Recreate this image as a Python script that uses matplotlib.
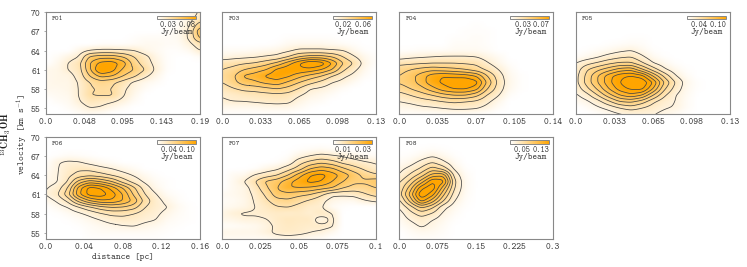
import numpy as np
import matplotlib
matplotlib.use('Agg')
import matplotlib.pyplot as plt
from matplotlib.colors import LinearSegmentedColormap

plt.rcParams['font.family'] = ['cmtt10']
plt.rcParams['mathtext.fontset'] = 'cm'
plt.rcParams['axes.formatter.use_mathtext'] = True

W, H = 747, 267

# flux in units of the contour step, rows from 70 km/s down to 54 km/s
F01 = [
    [0, 0, 0, 0, 0, 0, 0, 0, 0, 0, 0, 0, 0, .3, 1.2],
    [0, 0, 0, 0, 0, 0, 0, 0, 0, 0, 0, 0, .1, .6, 1.5],
    [0, 0, 0, 0, 0, 0, 0, 0, 0, 0, 0, 0, .2, .9, 2.6],
    [0, 0, 0, 0, 0, 0, 0, 0, 0, 0, 0, .1, .3, 1.1, 3.8],
    [0, 0, 0, 0, 0, 0, 0, 0, .1, .2, .2, .2, .3, 1.1, 3.2],
    [0, 0, 0, 0, 0, .1, .1, .1, .2, .3, .3, .2, .2, .7, 1.6],
    [0, 0, 0, .5, 1.0, 1.2, 1.2, 1.1, 1.0, .5, .3, .1, .1, .3, 1.0],
    [0, .2, .6, 1.0, 3.2, 3.6, 3.6, 3.0, 2.0, 1.3, .5, .1, 0, 0, .2],
    [0, .4, 1.0, 1.6, 4.0, 5.4, 5.6, 4.6, 2.5, 1.5, .7, .1, 0, 0, 0],
    [.4, .5, 1.0, 1.5, 3.8, 6.3, 5.5, 3.8, 3.0, 2.0, .8, .1, 0, 0, 0],
    [.4, .5, .6, 1.3, 3.0, 4.3, 4.0, 3.0, 2.2, 1.2, .5, 0, 0, 0, 0],
    [.4, .5, .5, 1.05, 2.0, 2.5, 2.2, 1.6, .8, .4, .2, 0, 0, 0, 0],
    [.4, .4, .5, 1.0, 1.9, 2.1, 2.0, 1.2, .6, .2, 0, 0, 0, 0, 0],
    [.2, .3, .4, 1.0, 2.0, 2.1, 2.1, 1.1, .4, 0, 0, 0, 0, 0, 0],
    [0, .2, .3, .9, 1.5, 1.3, 1.1, .7, .2, 0, 0, 0, 0, 0, 0],
    [0, 0, .2, .5, 1.0, .9, .5, .2, 0, 0, 0, 0, 0, 0, 0],
    [0, 0, 0, .2, .3, .2, 0, 0, 0, 0, 0, 0, 0, 0, 0],
]
F03 = [
    [0, 0, 0, 0, 0, 0, 0, 0, 0, 0, 0, 0, 0, 0, 0],
    [0, 0, 0, 0, 0, 0, 0, 0, 0, 0, 0, 0, 0, 0, 0],
    [0, 0, 0, 0, 0, 0, 0, 0, 0, 0, 0, 0, 0, 0, 0],
    [0, 0, 0, 0, 0, 0, 0, 0, 0, 0, 0, 0, 0, 0, 0],
    [0, 0, 0, 0, 0, 0, .1, .1, .1, .1, .1, 0, 0, 0, 0],
    [0, 0, 0, 0, 0, .1, .3, .4, .4, .4, .3, .2, .1, 0, 0],
    [.2, .2, .2, .3, .4, .5, .8, 1.2, 1.2, 1.2, 1.1, 1.0, .4, .1, 0],
    [.5, .7, .8, .9, 1.1, 1.3, 2.0, 3.0, 3.5, 3.5, 3.0, 2.0, 1.1, .4, .1],
    [1.6, 1.7, 1.9, 2.1, 2.6, 3.3, 4.6, 6.0, 7.2, 6.7, 5.0, 3.0, 1.9, .6, .1],
    [2.0, 2.3, 3.0, 3.5, 4.0, 5.3, 5.8, 5.8, 5.6, 5.0, 4.0, 2.2, 1.2, .4, 0],
    [2.2, 2.8, 4.2, 4.5, 5.2, 5.6, 5.2, 4.3, 3.6, 3.0, 2.0, 1.2, .7, .2, 0],
    [2.0, 2.7, 3.5, 3.8, 4.3, 4.6, 3.8, 3.0, 2.3, 1.7, 1.0, .7, .3, 0, 0],
    [1.4, 1.9, 2.3, 2.4, 2.7, 3.0, 2.6, 1.9, 1.0, .8, .5, .2, 0, 0, 0],
    [1.05, 1.2, 1.4, 1.5, 1.6, 1.7, 1.6, 1.1, .6, .4, .2, 0, 0, 0, 0],
    [.9, 1.0, 1.0, 1.1, 1.2, 1.3, 1.2, .6, .3, .2, 0, 0, 0, 0, 0],
    [.4, .4, .4, .4, .5, .5, .5, .3, .1, 0, 0, 0, 0, 0, 0],
    [.1, .1, .1, .1, .1, .1, .1, 0, 0, 0, 0, 0, 0, 0, 0],
]
F04 = [
    [0, 0, 0, 0, 0, 0, 0, 0, 0, 0, 0, 0, 0, 0, 0],
    [0, 0, 0, 0, 0, 0, 0, 0, 0, 0, 0, 0, 0, 0, 0],
    [0, 0, 0, 0, 0, 0, 0, .1, 0, 0, 0, 0, 0, 0, 0],
    [0, 0, 0, 0, 0, 0, .1, .1, .1, 0, 0, 0, 0, 0, 0],
    [0, 0, 0, 0, 0, .1, .1, .2, .1, 0, 0, 0, 0, 0, 0],
    [0, 0, 0, 0, 0, .2, .2, .2, .1, 0, 0, 0, 0, 0, 0],
    [.1, .1, .2, .2, .2, .3, .3, .3, .2, 0, 0, 0, 0, 0, 0],
    [.6, .8, .9, 1.0, 1.1, 1.1, 1.1, 1.0, .6, .3, 0, 0, 0, 0, 0],
    [1.7, 1.8, 1.9, 2.0, 2.0, 2.0, 1.9, 1.8, 1.1, .5, .1, 0, 0, 0, 0],
    [2.6, 3.0, 3.4, 3.7, 3.5, 3.3, 3.0, 2.5, 1.8, 1.0, .3, 0, 0, 0, 0],
    [3.0, 3.6, 4.5, 5.6, 6.0, 5.8, 5.6, 5.0, 3.0, 1.5, .4, .1, 0, 0, 0],
    [3.1, 3.5, 4.5, 5.7, 6.2, 6.6, 7.1, 6.4, 3.8, 1.7, .5, .1, 0, 0, 0],
    [2.5, 3.0, 3.6, 4.6, 5.6, 6.1, 6.1, 5.4, 3.0, 1.5, .4, .1, 0, 0, 0],
    [1.5, 2.0, 2.5, 3.0, 3.6, 4.0, 4.0, 3.3, 1.9, 1.05, .2, 0, 0, 0, 0],
    [1.0, 1.2, 1.5, 1.7, 2.0, 2.2, 2.0, 1.8, 1.2, .5, 0, 0, 0, 0, 0],
    [.5, .6, .8, .9, 1.05, 1.2, 1.2, 1.1, .7, .2, 0, 0, 0, 0, 0],
    [.2, .2, .2, .2, .3, .3, .3, .2, .1, 0, 0, 0, 0, 0, 0],
]
F05 = [
    [0, 0, 0, 0, 0, .1, .1, 0, 0, 0, 0, 0, 0, 0, 0],
    [0, 0, 0, 0, 0, 0, 0, 0, 0, 0, 0, 0, 0, 0, 0],
    [0, 0, 0, 0, 0, 0, 0, 0, 0, 0, 0, 0, 0, 0, 0],
    [0, 0, 0, 0, 0, 0, 0, 0, 0, 0, 0, 0, 0, 0, 0],
    [0, 0, 0, 0, 0, .1, .1, 0, 0, 0, 0, 0, 0, 0, 0],
    [0, 0, 0, .1, .2, .3, .2, 0, 0, 0, 0, 0, 0, 0, 0],
    [0, .1, .3, .5, .8, 1.0, .5, .1, 0, 0, 0, 0, 0, 0, 0],
    [.2, .5, .9, 1.4, 1.8, 2.0, 1.2, .4, .1, 0, 0, 0, 0, 0, 0],
    [1.0, 1.7, 2.2, 2.8, 3.2, 3.2, 2.2, 1.05, .5, .1, 0, 0, 0, 0, 0],
    [1.4, 2.9, 3.8, 4.6, 5.5, 5.8, 4.2, 2.6, 1.2, .5, .1, 0, 0, 0, 0],
    [1.6, 3.3, 5.0, 6.6, 7.7, 8.1, 7.5, 5.0, 2.8, 1.1, .3, 0, 0, 0, 0],
    [1.6, 3.4, 5.0, 6.7, 8.0, 9.0, 9.0, 7.0, 4.0, 2.0, .6, .1, 0, 0, 0],
    [1.3, 2.7, 4.2, 6.0, 7.5, 8.2, 8.3, 6.0, 3.2, 1.6, .5, .1, 0, 0, 0],
    [.8, 1.6, 3.0, 4.6, 6.0, 6.7, 6.0, 4.0, 2.2, 1.05, .4, 0, 0, 0, 0],
    [.4, .8, 1.6, 2.8, 4.0, 4.2, 3.5, 2.2, 1.4, 1.0, .3, 0, 0, 0, 0],
    [0, .3, .8, 1.3, 2.0, 2.5, 2.0, 1.5, 1.1, .9, .3, 0, 0, 0, 0],
    [0, 0, .2, .5, .9, 1.05, 1.1, 1.05, .7, .4, .1, 0, 0, 0, 0],
]
F06 = [
    [0, 0, 0, 0, 0, 0, 0, 0, 0, 0, 0, 0, 0, 0, 0],
    [0, 0, 0, 0, 0, 0, 0, 0, 0, 0, 0, 0, 0, 0, 0],
    [0, 0, 0, 0, 0, 0, 0, 0, 0, 0, 0, 0, 0, 0, 0],
    [0, .1, .3, .2, .1, 0, 0, 0, 0, 0, 0, 0, 0, 0, 0],
    [.1, .9, 1.2, 1.1, .7, .4, .2, 0, 0, 0, 0, 0, 0, 0, 0],
    [.3, .9, 1.5, 1.8, 1.7, 1.3, 1.0, .6, .3, 0, 0, 0, 0, 0, 0],
    [.5, .9, 1.7, 2.4, 2.7, 2.4, 1.9, 1.4, .9, .4, .1, 0, 0, 0, 0],
    [.6, .9, 2.0, 4.4, 5.5, 4.9, 4.0, 2.6, 1.6, .8, .3, .1, 0, 0, 0],
    [.9, 1.4, 3.0, 6.5, 8.5, 8.0, 6.6, 5.0, 3.2, 1.5, .5, .1, 0, 0, 0],
    [1.0, 1.8, 3.6, 6.8, 8.5, 8.6, 7.6, 6.0, 3.8, 2.0, 1.05, .3, .1, 0, 0],
    [.5, 1.1, 2.2, 4.4, 6.0, 6.8, 6.8, 6.0, 4.7, 2.6, 1.4, .7, .2, 0, 0],
    [.1, .5, 1.0, 1.9, 2.8, 3.6, 4.0, 3.9, 3.4, 2.0, 1.4, 1.05, .4, .1, 0],
    [0, .1, .4, .8, 1.3, 1.9, 2.3, 2.3, 2.0, 1.5, 1.2, .7, .3, .1, 0],
    [0, 0, .1, .3, .6, 1.0, 1.4, 1.6, 1.5, 1.2, 1.0, .4, .2, .1, 0],
    [0, 0, 0, .1, .3, .5, .7, .9, 1.0, .7, .5, .2, .1, 0, 0],
    [0, 0, 0, 0, .2, .3, .3, .3, .3, .3, .2, .1, 0, 0, 0],
    [0, 0, 0, 0, .1, .1, .1, .1, .1, .1, .1, 0, 0, 0, 0],
]
F07 = [
    [0, 0, 0, 0, 0, 0, 0, 0, 0, 0, 0, 0, 0, 0, 0],
    [0, 0, 0, 0, 0, 0, 0, 0, 0, 0, 0, 0, 0, 0, 0],
    [0, 0, 0, 0, 0, 0, 0, .1, .2, .3, .2, .1, 0, 0, 0],
    [0, 0, 0, 0, 0, 0, .1, .6, 1.0, 1.3, 1.1, .9, .6, .3, .2],
    [0, 0, 0, 0, 0, .1, .4, 1.6, 2.3, 2.8, 2.4, 1.7, 1.4, 1.1, .9],
    [0, 0, 0, .1, .5, .8, 1.6, 2.5, 4.0, 4.6, 4.2, 3.2, 2.4, 1.8, 1.2],
    [0, .3, .4, 1.1, 1.5, 2.0, 3.0, 4.6, 6.0, 6.4, 5.6, 4.6, 3.6, 2.6, 2.2],
    [0, .4, 1.0, 2.0, 3.2, 3.6, 4.7, 5.6, 6.3, 6.0, 5.0, 4.0, 3.2, 3.2, 3.6],
    [0, .4, .6, 1.5, 2.8, 4.0, 5.0, 5.0, 4.8, 4.4, 4.0, 3.0, 2.6, 2.6, 3.0],
    [.3, .4, .6, 1.2, 2.2, 3.6, 3.6, 3.3, 3.0, 2.2, 1.2, 1.2, 1.3, 1.9, 2.4],
    [.2, .3, .5, 1.1, 1.8, 2.6, 2.8, 2.3, 1.8, 1.3, .6, .4, .4, .9, 1.2],
    [.3, .4, .6, 1.0, 1.4, 1.9, 2.0, 1.6, 1.2, 1.1, .3, .1, 0, 0, 0],
    [.6, .95, 1.1, 1.1, 1.2, 1.3, 1.2, 1.3, 1.05, 1.4, 1.05, 0, 0, 0, 0],
    [.5, .6, .8, .8, .95, 1.3, 1.5, 1.4, 1.4, .5, 1.25, 0, 0, 0, 0],
    [.15, .2, .3, .4, .7, 1.2, 1.4, 1.3, 1.2, 1.3, 1.1, 0, 0, 0, 0],
    [.5, .5, .5, .5, .8, 1.2, 1.3, 1.2, 1.0, .8, .4, 0, 0, 0, 0],
    [.3, .3, .3, .3, .3, .5, .6, .5, .3, .2, 0, 0, 0, 0, 0],
]
F08 = [
    [0, 0, 0, 0, 0, 0, 0, 0, 0, 0, 0, 0, 0, 0, 0],
    [0, 0, 0, 0, 0, 0, 0, 0, 0, 0, 0, 0, 0, 0, 0],
    [0, 0, .1, .2, .1, 0, 0, 0, 0, 0, 0, 0, 0, 0, 0],
    [.1, .2, .5, .9, .5, .1, 0, 0, 0, 0, 0, 0, 0, 0, 0],
    [.3, .6, 1.3, 2.0, 1.2, .4, 0, 0, 0, 0, 0, 0, 0, 0, 0],
    [.7, 1.3, 2.2, 3.5, 2.6, .8, .1, 0, 0, 0, 0, 0, 0, 0, 0],
    [1.0, 2.2, 3.5, 5.5, 5.8, 1.6, .3, 0, 0, 0, 0, 0, 0, 0, 0],
    [1.8, 3.3, 5.5, 8.0, 7.5, 2.2, .4, 0, 0, 0, 0, 0, 0, 0, 0],
    [2.2, 4.5, 7.8, 8.8, 5.5, 2.0, .4, 0, 0, 0, 0, 0, 0, 0, 0],
    [2.5, 5.4, 9.0, 7.5, 4.2, 1.5, .3, 0, 0, 0, 0, 0, 0, 0, 0],
    [1.7, 4.3, 7.5, 5.5, 3.0, 1.0, .2, 0, 0, 0, 0, 0, 0, 0, 0],
    [1.0, 2.5, 4.2, 3.2, 1.3, .5, .1, 0, 0, 0, 0, 0, 0, 0, 0],
    [.6, 1.6, 2.5, 1.9, .8, .3, 0, 0, 0, 0, 0, 0, 0, 0, 0],
    [.4, 1.05, 1.5, 1.0, .5, .1, 0, 0, 0, 0, 0, 0, 0, 0, 0],
    [.2, .6, 1.1, .7, .3, 0, 0, 0, 0, 0, 0, 0, 0, 0, 0],
    [0, .3, .5, .4, .2, 0, 0, 0, 0, 0, 0, 0, 0, 0, 0],
    [0, .1, .2, .2, .1, 0, 0, 0, 0, 0, 0, 0, 0, 0, 0],
]

names = ['F01', 'F03', 'F04', 'F05', 'F06', 'F07', 'F08']
grids = [F01, F03, F04, F05, F06, F07, F08]
xlabels = [
    ['0.0', '0.048', '0.095', '0.143', '0.19'],
    ['0.0', '0.033', '0.065', '0.098', '0.13'],
    ['0.0', '0.035', '0.07', '0.105', '0.14'],
    ['0.0', '0.033', '0.065', '0.098', '0.13'],
    ['0.0', '0.04', '0.08', '0.12', '0.16'],
    ['0.0', '0.025', '0.05', '0.075', '0.1'],
    ['0.0', '0.075', '0.15', '0.225', '0.3'],
]
xmax = [0.19, 0.13, 0.14, 0.13, 0.16, 0.1, 0.3]
cbar_low = [0.03, 0.02, 0.03, 0.04, 0.04, 0.01, 0.05]
cbar_high = [0.08, 0.06, 0.07, 0.10, 0.10, 0.03, 0.13]
# flux (in contour steps) at which the colour is full orange
saturation = [5.5, 5.5, 6, 7.5, 7.5, 6, 7.5]
yticks = [55, 58, 61, 64, 67, 70]

# axes boxes in pixels: left, top, width, height
boxes = [
    (45.7, 12.3, 154.3, 102), (222.3, 12.3, 153.7, 102),
    (399.3, 12.3, 154, 102), (575.7, 12.3, 154.6, 102),
    (45.7, 136.7, 154.3, 102.6), (222.3, 136.7, 153.7, 102.6),
    (399.3, 136.7, 154, 102.6),
]

cmap = LinearSegmentedColormap.from_list('wo', ['#ffffff', '#ffa500'])
TXT = '#333333'
EDGE = '#888888'


def smooth(z, n=6):
    """Upsample a coarse grid and soften it a little."""
    ny, nx = z.shape
    xi = np.linspace(0, nx - 1, (nx - 1) * n + 1)
    yi = np.linspace(0, ny - 1, (ny - 1) * n + 1)
    tmp = np.array([np.interp(xi, np.arange(nx), r) for r in z])
    out = np.array([np.interp(yi, np.arange(ny), c) for c in tmp.T]).T
    k = np.array([1, 2, 3, 2, 1]) / 9.0
    p = np.pad(out, 2, mode='edge')
    p = np.apply_along_axis(lambda r: np.convolve(r, k, mode='same'), 0, p)
    p = np.apply_along_axis(lambda r: np.convolve(r, k, mode='same'), 1, p)
    return p[2:-2, 2:-2]


fig = plt.figure(figsize=(W / 100, H / 100), dpi=100)

for i, name in enumerate(names):
    left, top, w, h = boxes[i]
    ax = fig.add_axes([left / W, 1 - (top + h) / H, w / W, h / H])
    z = smooth(np.array(grids[i], dtype=float)[::-1])
    x = np.linspace(0, xmax[i], z.shape[1])
    y = np.linspace(54, 70, z.shape[0])
    scale = cbar_high[i] / (0.78 * saturation[i])
    im = ax.imshow(z * scale, origin='lower', aspect='auto', cmap=cmap,
                   extent=[0, xmax[i], 54, 70], vmin=0, vmax=saturation[i] * scale,
                   interpolation='bilinear')
    levels = np.arange(1, int(z.max()) + 1)
    ax.contour(x, y, z, levels=levels, colors='#444444', linewidths=0.55)

    ax.set_xlim(0, xmax[i])
    ax.set_ylim(54, 70)
    ax.set_xticks(np.linspace(0, xmax[i], 5))
    ax.set_xticklabels(xlabels[i])
    ax.tick_params(axis='x', length=0, labelsize=6.6, pad=2.5, labelcolor=TXT)
    if i in (0, 4):
        ax.set_yticks(yticks)
        ax.tick_params(axis='y', length=1.5, width=0.5, color=EDGE, labelsize=6.6,
                       pad=1.5, labelcolor=TXT)
    else:
        ax.set_yticks([])
    for s in ax.spines.values():
        s.set_color(EDGE)
        s.set_linewidth(0.8)
    ax.text(0.04, 0.93, name, transform=ax.transAxes, fontsize=5.2, color=TXT,
            va='center', ha='left')

    cax = ax.inset_axes([0.72, 0.93, 0.255, 0.035])
    cb = fig.colorbar(im, cax=cax, orientation='horizontal',
                      ticks=[cbar_low[i], cbar_high[i]])
    cb.ax.set_xticklabels(['%.2f' % cbar_low[i], '%.2f' % cbar_high[i]])
    cb.ax.tick_params(length=0, labelsize=5.8, pad=1.2, labelcolor=TXT)
    cb.outline.set_edgecolor(EDGE)
    cb.outline.set_linewidth(0.7)
    ax.text(0.85, 0.805, 'Jy/beam', transform=ax.transAxes, fontsize=6.3, color=TXT,
            ha='center', va='center')

    if i == 4:
        ax.set_xlabel('distance [pc]', fontsize=6.6, color=TXT, labelpad=1.5)

fig.text(6.5 / W, 1 - 134 / H, r'$\mathbf{^{13}CH_3OH}$', rotation=90, fontsize=7,
         ha='center', va='center', color='#222222')
fig.text(22.5 / W, 1 - 134 / H, r'velocity [km s$^{-1}$]', rotation=90, fontsize=6.6,
         ha='center', va='center', color=TXT)

fig.savefig('out.png', dpi=100)
